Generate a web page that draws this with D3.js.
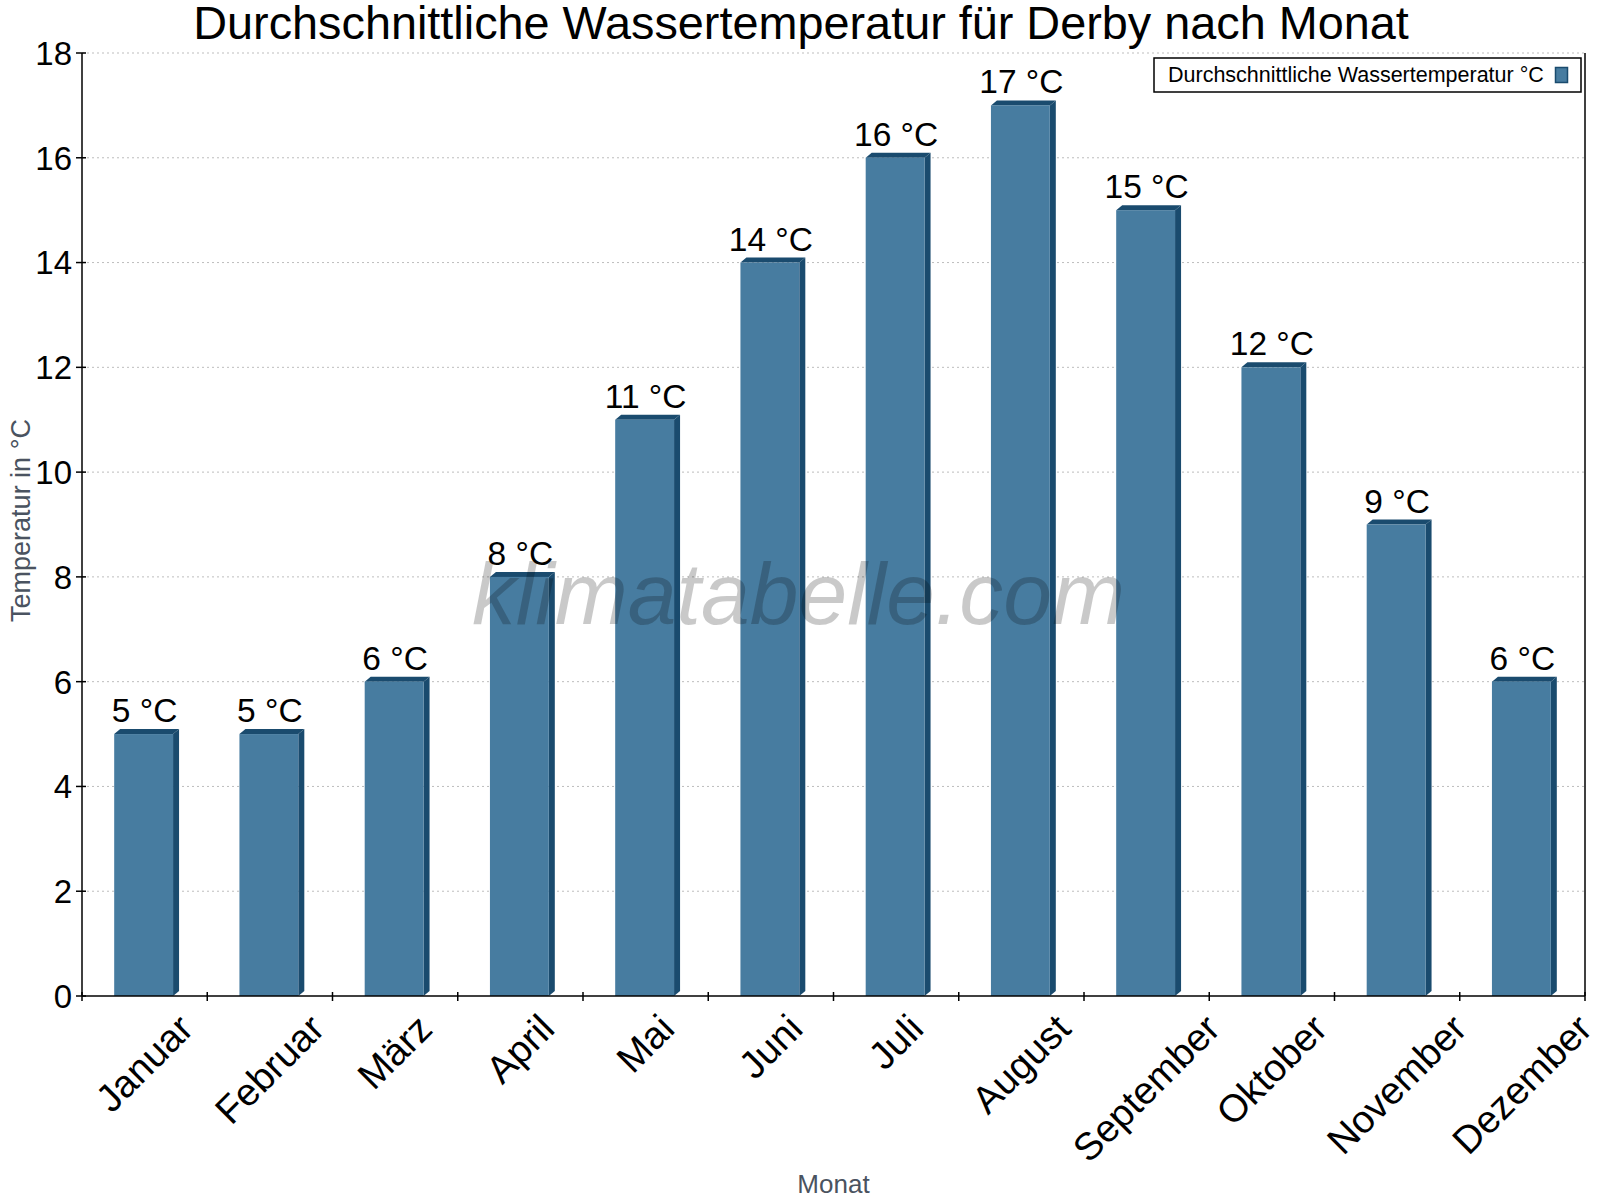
<!DOCTYPE html>
<html><head><meta charset="utf-8">
<script src="https://cdn.jsdelivr.net/npm/d3@7"></script>
<style>
body{margin:0;background:#fff}
svg{display:block}
text{font-family:"Liberation Sans",Arial,Helvetica,sans-serif}
</style>
</head><body>
<svg id="chart" width="1600" height="1200"></svg>
<script>
// ---- data ----
const months = ["Januar","Februar","März","April","Mai","Juni","Juli","August","September","Oktober","November","Dezember"];
const waterTemp = [5,5,6,8,11,14,16,17,15,12,9,6];
const yTicks = [0,2,4,6,8,10,12,14,16,18];
const unit = " °C";
const titleText = "Durchschnittliche Wassertemperatur für Derby nach Monat";
const seriesName = "Durchschnittliche Wassertemperatur °C";
const yTitle = "Temperatur in °C";
const xTitle = "Monat";
const watermark = "klimatabelle.com";

// ---- layout ----
const W = 1600, H = 1200;
const m = {left: 82, right: 15, top: 53, bottom: 204};
const plotL = m.left, plotR = W - m.right, plotT = m.top, plotB = H - m.bottom;
const frontCol = "#477ca0", darkCol = "#1a4b6e";

const svg = d3.select("#chart");

const x = d3.scaleBand().domain(months).range([plotL, plotR]).paddingInner(0).paddingOuter(0);
const y = d3.scaleLinear().domain([0, 18]).range([plotB, plotT]);

// grid
svg.append("g").selectAll("line").data(yTicks.filter(t => t > 0)).join("line")
  .attr("x1", plotL).attr("x2", plotR)
  .attr("y1", d => y(d)).attr("y2", d => y(d))
  .attr("stroke", "#bdbdbd").attr("stroke-width", 1).attr("stroke-dasharray", "2,3");

// bars (3D look)
const bw = x.bandwidth();
const barW = bw * 0.47;
const dx = 6, dy = 5;
const bars = svg.append("g");
months.forEach((mo, i) => {
  const v = waterTemp[i];
  const x0 = x(mo) + (bw - barW) / 2 - 1;
  const x1 = x0 + barW;
  const yt = y(v), yb = y(0);
  bars.append("polygon")
    .attr("points", [[x1, yt], [x1 + dx, yt - dy], [x1 + dx, yb - dy], [x1, yb]].join(" "))
    .attr("fill", darkCol);
  bars.append("polygon")
    .attr("points", [[x0, yt], [x0 + dx, yt - dy], [x1 + dx, yt - dy], [x1, yt]].join(" "))
    .attr("fill", darkCol);
  bars.append("rect")
    .attr("x", x0).attr("y", yt).attr("width", barW).attr("height", yb - yt)
    .attr("fill", frontCol);
});

// axes
const ax = svg.append("g").attr("stroke", "#000").attr("stroke-width", 1.5);
ax.append("line").attr("x1", plotL).attr("x2", plotL).attr("y1", plotT).attr("y2", plotB);
ax.append("line").attr("x1", plotR).attr("x2", plotR).attr("y1", plotT).attr("y2", plotB);
ax.append("line").attr("x1", plotL).attr("x2", plotR).attr("y1", plotB).attr("y2", plotB);
yTicks.forEach(t => {
  ax.append("line").attr("x1", plotL - 6).attr("x2", plotL + 4).attr("y1", y(t)).attr("y2", y(t));
});
const bounds = months.map(mo => x(mo)).concat([plotR]);
bounds.forEach(b => {
  ax.append("line").attr("x1", b).attr("x2", b).attr("y1", plotB - 4).attr("y2", plotB + 5);
});

// y tick labels
svg.append("g").selectAll("text").data(yTicks).join("text")
  .attr("x", plotL - 10).attr("y", d => y(d)).attr("dy", "0.36em")
  .attr("text-anchor", "end").attr("font-size", 33).attr("fill", "#000")
  .text(d => d);

// x tick labels (rotated)
svg.append("g").selectAll("text").data(months).join("text")
  .attr("font-size", 38.5).attr("fill", "#000").attr("text-anchor", "end")
  .text(d => d)
  .each(function(d) {
    const w = this.getComputedTextLength();
    const cx = x(d) + bw / 2;
    const ex = cx + 9 + 0.3535 * w, ey = plotB + 35;
    d3.select(this).attr("x", ex).attr("y", ey)
      .attr("transform", `rotate(-45,${ex},${ey})`);
  });

// value labels
svg.append("g").selectAll("text").data(waterTemp).join("text")
  .attr("x", (d, i) => x(months[i]) + bw / 2)
  .attr("y", d => y(d) - 12)
  .attr("text-anchor", "middle").attr("font-size", 33.5).attr("fill", "#000")
  .text(d => d + unit);

// title
svg.append("text").attr("x", 801).attr("y", 39).attr("text-anchor", "middle")
  .attr("font-size", 46.8).attr("fill", "#000").text(titleText);

// axis titles
svg.append("text").attr("transform", `translate(30,${(plotT + plotB) / 2 - 4}) rotate(-90)`)
  .attr("text-anchor", "middle").attr("font-size", 27).attr("fill", "#4a5360").text(yTitle);
svg.append("text").attr("x", (plotL + plotR) / 2).attr("y", 1193)
  .attr("text-anchor", "middle").attr("font-size", 26).attr("fill", "#4a5360").text(xTitle);

// legend
const lg = svg.append("g");
lg.append("rect").attr("x", plotR - 431).attr("y", 58).attr("width", 427).attr("height", 34)
  .attr("fill", "#fff").attr("stroke", "#000").attr("stroke-width", 1.5);
lg.append("text").attr("x", plotR - 417).attr("y", 82).attr("font-size", 21.5).attr("fill", "#000").text(seriesName);
lg.append("rect").attr("x", plotR - 29.5).attr("y", 67.5).attr("width", 12).attr("height", 15)
  .attr("fill", frontCol).attr("stroke", darkCol).attr("stroke-width", 1.5);

// watermark
const wm = svg.append("text").attr("x", 472).attr("y", 624)
  .attr("font-family", "Roboto, sans-serif").attr("font-weight", 300)
  .attr("font-style", "italic").attr("font-size", 90)
  .attr("fill", "rgba(0,0,0,0.21)").text(watermark);
const ww = wm.node().getComputedTextLength();
wm.attr("font-size", 90 * 653 / ww);
</script>
</body></html>
